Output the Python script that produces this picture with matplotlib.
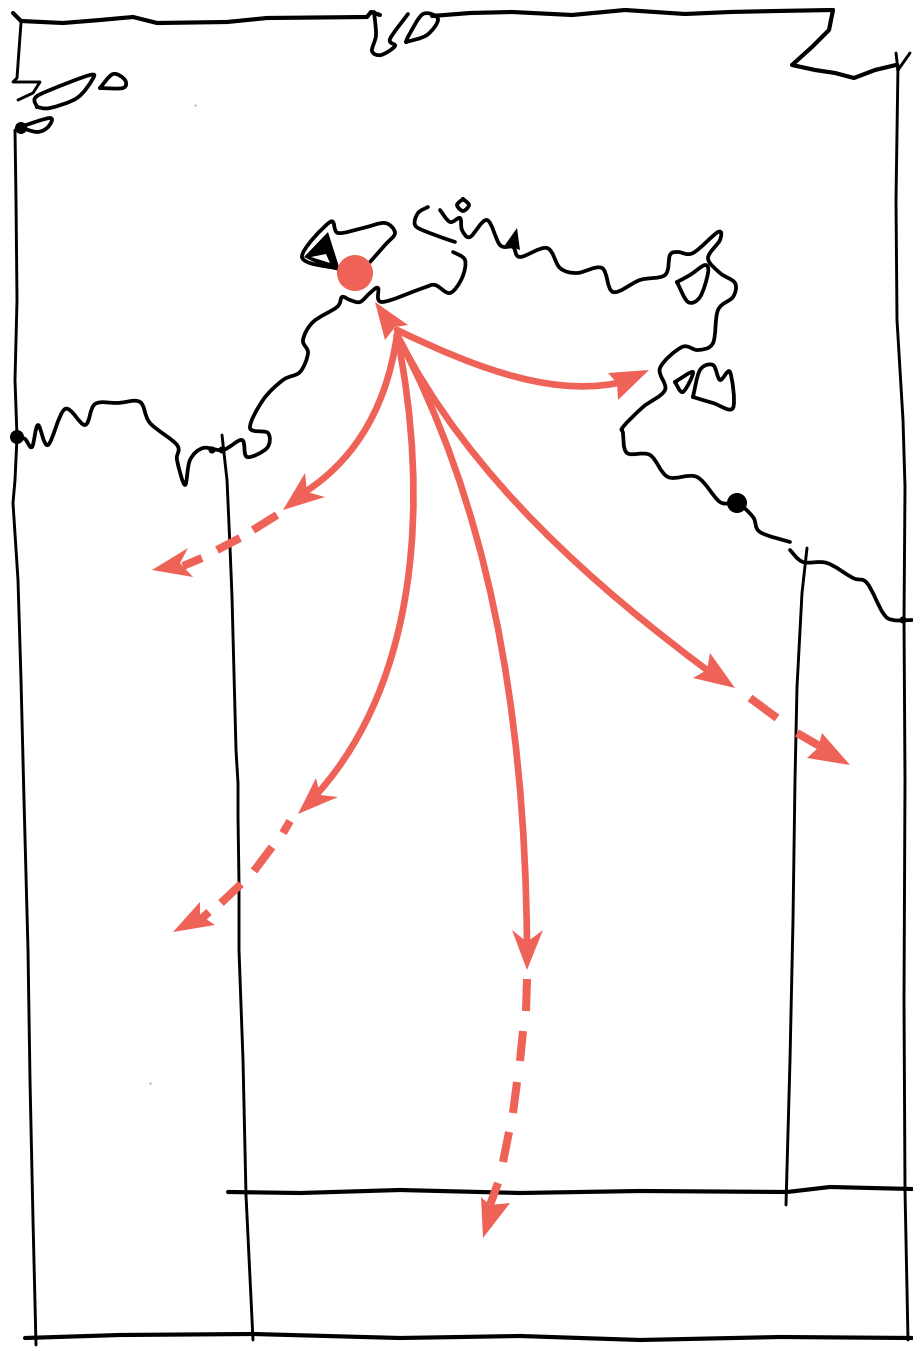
import matplotlib
matplotlib.use("Agg")
import matplotlib.pyplot as plt
from matplotlib.path import Path
from matplotlib.patches import PathPatch, Polygon, Circle

RED = "#ee6257"

# ------- map outline (x, y in image pixels) -------
top_border = [(13, 13), (21, 21), (63, 23), (100, 20), (133, 17), (157, 23), (227, 22), (267, 18), (367, 17), (371, 12),
              (380, 15)]
top_border_east = [(432, 16), (470, 13), (512, 12), (572, 15), (625, 10), (685, 14), (730, 12), (776, 11), (833, 10)]
top_right = [(833, 10), (829, 30), (812, 47), (792, 65), (815, 70), (835, 73), (854, 78), (875, 70), (896, 65)]
right_tick = [(910, 53), (898, 70)]
right_tick_b = [(896, 53), (898, 70)]
left_top = [(21, 23), (19, 50), (17, 78), (13, 82), (40, 82), (33, 93), (18, 100)]
left_border = [(15, 130), (16, 200), (17, 300), (15, 380), (17, 437), (15, 480), (13, 503), (18, 580), (21, 680), (24, 800),
               (28, 950), (30, 1080), (33, 1220), (36, 1345)]
right_top = [(898, 65), (896, 200), (897, 320), (903, 420), (905, 487), (904, 620)]
right_bottom = [(904, 620), (905, 780), (904, 1000), (905, 1190), (908, 1340)]
bottom_border = [(25, 1338), (120, 1335), (253, 1334), (400, 1338), (520, 1336), (640, 1340), (780, 1337), (912, 1338)]
inner_horizontal = [(228, 1192), (300, 1193), (400, 1190), (520, 1193), (640, 1191), (787, 1192), (830, 1187), (912, 1189)]
inner_left = [(222, 435), (227, 480), (230, 547), (232, 597), (236, 750), (238, 783), (238, 817), (239, 883), (239, 950),
              (243, 1060), (246, 1195), (253, 1340)]
inner_right = [(807, 548), (802, 593), (797, 687), (795, 780), (793, 920), (790, 1060), (786, 1205)]

west_coast = [(17, 437), (25, 439), (32, 447), (38, 425), (48, 445), (65, 409), (85, 425), (95, 404), (118, 403), (140, 402),
              (150, 423), (177, 445), (177, 460), (185, 485), (190, 460), (203, 448), (223, 450), (242, 440), (247, 457),
              (267, 448), (268, 433), (250, 428), (263, 400), (283, 380), (300, 372), (308, 353), (303, 340), (313, 322),
              (337, 307), (342, 297), (350, 300), (360, 302), (370, 293), (378, 288), (382, 302), (423, 288), (435, 285),
              (450, 293), (462, 278), (465, 260), (453, 252)]
north_coast_a = [(455, 242), (427, 232), (415, 225), (418, 213), (428, 207)]
north_coast_b = [(440, 210), (450, 222), (460, 218), (462, 230), (470, 237), (487, 220), (500, 245), (513, 247), (520, 257),
                 (547, 248), (560, 268), (577, 273), (602, 268), (613, 292), (640, 280), (665, 275), (670, 255), (678, 252),
                 (693, 253), (718, 232), (720, 240), (708, 258), (720, 273), (735, 283), (733, 297), (718, 310), (713, 343),
                 (698, 350), (682, 347), (660, 368), (665, 390), (643, 407), (623, 427), (623, 433), (627, 453), (650, 455),
                 (668, 477), (697, 477), (720, 502), (737, 503), (753, 517), (760, 532), (790, 542)]
east_coast = [(790, 550), (803, 562), (827, 563), (853, 578), (867, 583), (883, 613), (893, 620), (912, 620)]
peninsula = [(370, 262), (385, 245), (395, 233), (385, 223), (363, 228), (338, 233), (330, 222), (302, 257), (335, 268),
             (345, 268)]
gulf_island = [(677, 282), (688, 302), (700, 297), (708, 273), (705, 265), (690, 275), (677, 282)]
groote_small = [(675, 382), (693, 372), (683, 392), (675, 382)]
groote = [(693, 397), (700, 370), (713, 365), (720, 380), (730, 372), (733, 408), (713, 403), (693, 397)]
small_ring = [(463, 199), (469, 205), (463, 211), (457, 205), (463, 199)]
tiwi_long = [(37, 107), (50, 108), (77, 98), (92, 80), (90, 75), (50, 90), (35, 98), (37, 107)]
tiwi_small = [(100, 88), (113, 74), (125, 80), (123, 88), (100, 88)]
tiwi_low = [(20, 127), (50, 118), (48, 127), (37, 132), (20, 127)]
top_island_a = [(374, 12), (376, 35), (372, 51), (381, 55), (395, 46), (390, 39), (408, 14)]
top_island_b = [(406, 42), (427, 35), (438, 19), (423, 14), (409, 35), (406, 42)]

thin_lines = [left_top, left_border, right_top, right_bottom, inner_left, inner_right, right_tick, right_tick_b]
thick_lines = [top_border, top_border_east, top_right, bottom_border, inner_horizontal]
coast_lines = [west_coast, north_coast_a, north_coast_b, east_coast, peninsula, gulf_island, groote_small, groote, small_ring,
               tiwi_long, tiwi_small, tiwi_low, top_island_a, top_island_b]
blobs = [(17, 437, 7), (737, 503, 10), (21, 128, 6), (212, 450, 3.5), (222, 450, 3.5), (903, 620, 3.5)]
black_fills = [
    [(304, 257), (328, 232), (340, 270), (320, 265)],
    [(517, 228), (505, 245), (520, 250)],
]
white_fills = [[(311, 257), (326, 254), (330, 263)]]
specks = [(195, 105), (150, 1083)]

# ------- arrows: bezier (start, two controls, end), head (tip, wing, notch, wing), dashes -------
arrow_curves = [
    [(397, 330), (480, 370), (560, 400), (630, 380)],
    [(397, 335), (385, 420), (345, 465), (308, 490)],
    [(397, 335), (430, 500), (418, 680), (318, 793)],
    [(397, 335), (485, 500), (525, 700), (527, 945)],
    [(397, 335), (470, 480), (600, 590), (707, 670)],
]
arrow_heads = [
    [(649, 370), (608, 373), (617, 383), (618, 400)],
    [(283, 510), (305, 473), (307, 492), (325, 497)],
    [(298, 814), (316, 778), (320, 795), (338, 797)],
    [(527, 970), (512, 930), (527, 942), (543, 930)],
    [(735, 688), (710, 653), (707, 670), (693, 678)],
    [(375, 302), (408, 325), (395, 327), (385, 340)],
    [(152, 570), (188, 548), (180, 563), (193, 577)],
    [(173, 932), (200, 902), (200, 915), (215, 925)],
    [(483, 1238), (481, 1197), (490, 1205), (510, 1203)],
    [(850, 765), (822, 733), (818, 748), (807, 758)],
]
arrow_dashes = [
    [(277, 515), (253, 530)], [(240, 538), (217, 550)], [(202, 558), (183, 566)],
    [(290, 821), (283, 833)], [(272, 847), (254, 871)], [(241, 884), (221, 903)], [(209, 912), (200, 920)],
    [(527, 979), (526, 1011)], [(523, 1031), (520, 1061)], [(517, 1082), (513, 1113)], [(509, 1132), (503, 1162)],
    [(498, 1183), (490, 1205)],
    [(750, 698), (777, 718)], [(797, 733), (823, 748)],
]
origin_dot = (355, 273, 18)


def smooth_path(points):
    # catmull-rom as bezier segments, goes through every traced point
    verts = [points[0]]
    codes = [Path.MOVETO]
    n = len(points)
    for i in range(n - 1):
        p0 = points[max(i - 1, 0)]
        p1 = points[i]
        p2 = points[i + 1]
        p3 = points[min(i + 2, n - 1)]
        c1 = (p1[0] + (p2[0] - p0[0]) / 6, p1[1] + (p2[1] - p0[1]) / 6)
        c2 = (p2[0] - (p3[0] - p1[0]) / 6, p2[1] - (p3[1] - p1[1]) / 6)
        verts += [c1, c2, p2]
        codes += [Path.CURVE4, Path.CURVE4, Path.CURVE4]
    return Path(verts, codes)


fig = plt.figure(figsize=(9.13, 13.49), dpi=100)
ax = fig.add_axes([0, 0, 1, 1])
ax.set_xlim(0, 913)
ax.set_ylim(1349, 0)
ax.axis("off")

for line in thin_lines:
    ax.plot(*zip(*line), color="black", lw=2.1, solid_capstyle="round", solid_joinstyle="round")
for line in thick_lines:
    ax.plot(*zip(*line), color="black", lw=3.0, solid_capstyle="round", solid_joinstyle="round")
for line in coast_lines:
    ax.add_patch(PathPatch(smooth_path(line), fill=False, edgecolor="black", lw=2.7, capstyle="round", joinstyle="round"))
for poly in black_fills:
    ax.add_patch(Polygon(poly, closed=True, color="black", lw=0))
for poly in white_fills:
    ax.add_patch(Polygon(poly, closed=True, color="white", lw=0))
for x, y, r in blobs:
    ax.add_patch(Circle((x, y), r, color="black", lw=0))
ax.scatter(*zip(*specks), s=3, color="#bbbbbb", lw=0)

for curve in arrow_curves:
    bezier = Path(curve, [Path.MOVETO, Path.CURVE4, Path.CURVE4, Path.CURVE4])
    ax.add_patch(PathPatch(bezier, fill=False, edgecolor=RED, lw=4.8, capstyle="round"))
for head in arrow_heads:
    ax.add_patch(Polygon(head, closed=True, color=RED, lw=0, zorder=4))
for dash in arrow_dashes:
    ax.plot(*zip(*dash), color=RED, lw=5.8, solid_capstyle="butt", zorder=4)
ax.add_patch(Circle(origin_dot[:2], origin_dot[2], color=RED, lw=0, zorder=5))

fig.savefig("out.png", dpi=100)
